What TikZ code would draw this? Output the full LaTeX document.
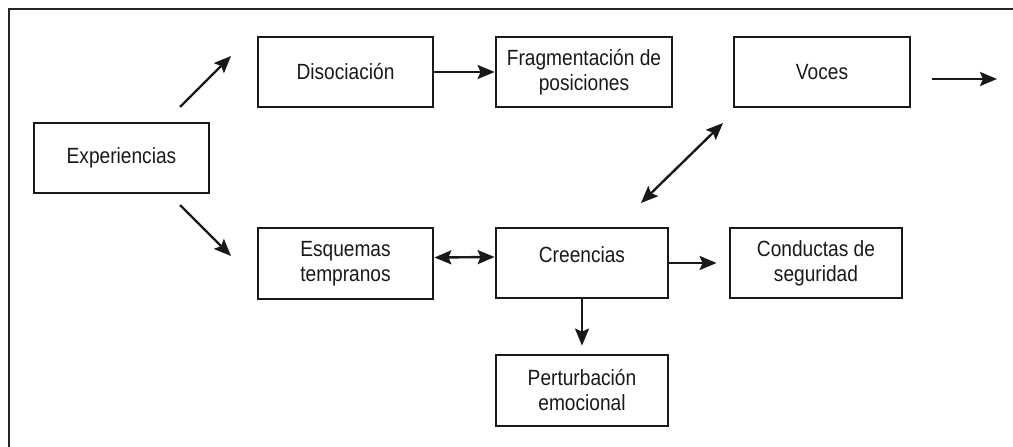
\documentclass[tikz,border=0pt]{standalone}
\usepackage{fontspec}
\setmainfont{Liberation Sans}[FakeStretch=0.87]
\usetikzlibrary{arrows.meta}
\begin{document}
\begin{tikzpicture}[x=1pt,y=-1pt,
  box/.style={draw=black!90, line width=2.8pt, align=center, inner sep=0pt,
    font=\fontsize{22}{25}\selectfont, text=black!90},
  arr/.style={line width=2.4pt, draw=black!90, -{Stealth[length=17pt,width=14pt,inset=3pt]}},
  darr/.style={line width=2.4pt, draw=black!90, {Stealth[length=17pt,width=14pt,inset=3pt]}-{Stealth[length=17pt,width=14pt,inset=3pt]}}]
\useasboundingbox (0,0) rectangle (1013,447);
% frame (only top and left edges visible)
\draw[line width=2.8pt, black!85] (9,447) -- (9,9) -- (1013,9);
% nodes
\node[box, minimum width=175pt, minimum height=70pt] (exp) at (121.5,158) {Experiencias};
\node[box, minimum width=175pt, minimum height=70pt] (dis) at (345.5,72) {Disociación};
\node[box, minimum width=176pt, minimum height=70pt] (frag) at (584,72) {Fragmentación de\\posiciones};
\node[box, minimum width=176pt, minimum height=70pt] (voc) at (822,72) {Voces};
\node[box, minimum width=175pt, minimum height=71pt] (esq) at (345.5,263.5) {Esquemas\\tempranos};
\node[box, minimum width=172pt, minimum height=70pt, text depth=16pt] (cre) at (582,263) {Creencias};
\node[box, minimum width=172pt, minimum height=70pt] (con) at (816,263) {Conductas de\\seguridad};
\node[box, minimum width=172pt, minimum height=71pt] (per) at (582,390.5) {Perturbación\\emocional};
% free connector ends
\coordinate (e1s) at (180,107);
\coordinate (e1e) at (231,56);
\coordinate (e2s) at (180,205);
\coordinate (e2e) at (231,256);
\coordinate (vcA) at (641,203);
\coordinate (vcB) at (723,123);
\coordinate (outS) at (932,79);
\coordinate (outE) at (997,79);
% connectors
\draw[arr] (e1s) -- (e1e);
\draw[arr] (e2s) -- (e2e);
\draw[arr] (dis.east) -- (frag.west);
\draw[darr] ([yshift=6pt]esq.east) -- ([yshift=6pt]cre.west);
\draw[arr, shorten >=12pt] (cre.east) -- (con.west);
\draw[arr, shorten >=8pt] (cre.south) -- (per.north);
\draw[darr] (vcA) -- (vcB);
\draw[arr] (outS) -- (outE);
\end{tikzpicture}
\end{document}
